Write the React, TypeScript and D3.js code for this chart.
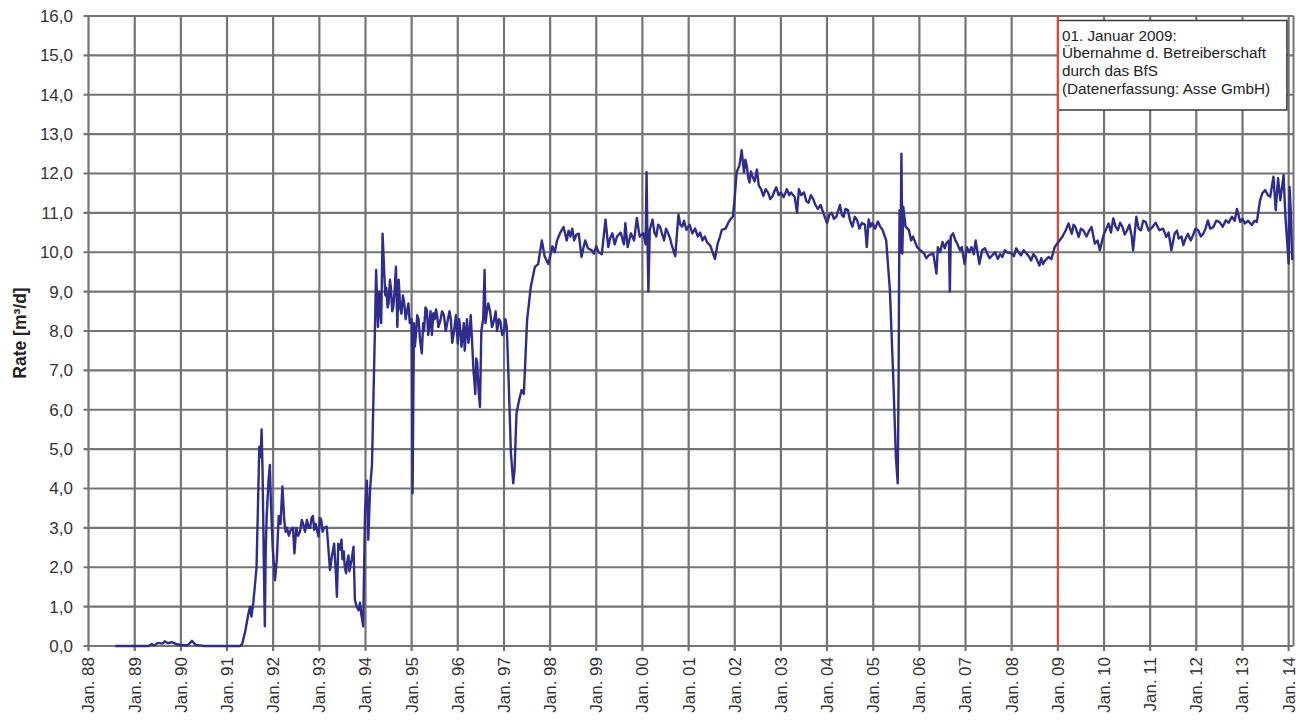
import { useEffect, useRef } from "react";
import * as d3 from "d3";

// brine inflow rate, [decimal year, m³/d]
const inflow1988to1993: [number, number][] = [
  [1988.58, 0], [1989.3, 0], [1989.37, 0.05], [1989.42, 0.01], [1989.5, 0.08], [1989.6, 0.06],
  [1989.65, 0.12], [1989.72, 0.07], [1989.8, 0.1], [1989.9, 0.05], [1990.0, 0.02], [1990.15, 0.02],
  [1990.24, 0.13], [1990.32, 0.03], [1990.5, 0], [1991.28, 0], [1991.33, 0.05], [1991.4, 0.4],
  [1991.46, 0.8], [1991.5, 1.0], [1991.53, 0.75], [1991.57, 1.1], [1991.61, 1.6], [1991.64, 2.0],
  [1991.67, 3.5], [1991.7, 5.06], [1991.73, 4.8], [1991.75, 5.5], [1991.77, 4.5], [1991.8, 2.0],
  [1991.82, 0.5], [1991.84, 2.5], [1991.86, 3.3], [1991.9, 4.2], [1991.93, 4.6], [1991.95, 3.7],
  [1991.99, 2.5], [1992.04, 1.67], [1992.08, 2.2], [1992.12, 3.3], [1992.16, 3.1], [1992.2, 4.05],
  [1992.24, 3.2], [1992.27, 2.9], [1992.3, 3.0], [1992.34, 2.8], [1992.38, 2.95], [1992.43, 3.0],
  [1992.46, 2.35], [1992.5, 3.0], [1992.54, 2.8], [1992.58, 2.9], [1992.62, 3.2], [1992.65, 3.1],
  [1992.69, 2.9], [1992.73, 3.2], [1992.77, 3.0], [1992.8, 3.0], [1992.83, 3.25], [1992.86, 3.3],
  [1992.89, 2.95], [1992.92, 3.1], [1992.98, 2.78], [1993.01, 3.25], [1993.04, 3.2], [1993.07, 2.9],
  [1993.1, 3.0], [1993.16, 3.03], [1993.2, 2.4], [1993.23, 1.93], [1993.27, 2.27], [1993.32, 2.6],
  [1993.36, 1.8], [1993.38, 1.25], [1993.41, 2.6], [1993.45, 2.45], [1993.48, 2.7], [1993.5, 2.2],
  [1993.53, 2.4], [1993.55, 2.0], [1993.58, 1.85], [1993.6, 2.1], [1993.63, 2.3], [1993.65, 1.9],
  [1993.7, 2.2], [1993.74, 2.52], [1993.77, 1.17], [1993.81, 1.0], [1993.85, 0.91], [1993.88, 1.1],
  [1993.91, 0.8], [1993.95, 0.5], [1993.99, 3.45],
];

const inflow1994to1997: [number, number][] = [
  [1994.03, 4.2], [1994.06, 2.7], [1994.1, 4.0], [1994.14, 4.6], [1994.17, 6.2], [1994.2, 7.8],
  [1994.23, 9.55], [1994.27, 8.1], [1994.3, 9.0], [1994.34, 8.2], [1994.37, 10.47], [1994.41, 9.37],
  [1994.43, 8.9], [1994.45, 9.1], [1994.48, 8.6], [1994.5, 8.7], [1994.53, 9.3], [1994.55, 9.1],
  [1994.58, 8.5], [1994.6, 8.6], [1994.63, 9.0], [1994.66, 9.63], [1994.69, 8.1], [1994.72, 9.3],
  [1994.75, 8.6], [1994.78, 8.44], [1994.81, 8.9], [1994.84, 8.7], [1994.87, 8.3], [1994.9, 8.5],
  [1994.93, 8.7], [1994.96, 8.2], [1995.0, 8.3], [1995.02, 3.88], [1995.05, 8.2], [1995.07, 7.6],
  [1995.1, 8.0], [1995.12, 8.4], [1995.15, 8.3], [1995.18, 7.8], [1995.22, 7.43], [1995.25, 8.2],
  [1995.27, 8.0], [1995.3, 8.6], [1995.33, 8.53], [1995.36, 7.9], [1995.38, 8.1], [1995.41, 8.5],
  [1995.44, 7.9], [1995.47, 8.45], [1995.5, 8.3], [1995.53, 8.55], [1995.55, 8.4], [1995.58, 8.1],
  [1995.62, 8.25], [1995.66, 8.5], [1995.7, 8.4], [1995.74, 8.0], [1995.78, 8.25], [1995.82, 8.5],
  [1995.85, 8.3], [1995.88, 7.7], [1995.92, 8.0], [1995.96, 8.4], [1996.0, 7.68], [1996.03, 8.3],
  [1996.05, 8.1], [1996.08, 7.6], [1996.1, 7.8], [1996.13, 8.2], [1996.15, 7.5], [1996.18, 8.0],
  [1996.2, 8.3], [1996.23, 7.7], [1996.26, 8.0], [1996.28, 8.4], [1996.3, 7.95], [1996.34, 7.0],
  [1996.38, 6.4], [1996.4, 7.3], [1996.42, 7.2], [1996.45, 6.5], [1996.48, 6.07], [1996.51, 8.0],
  [1996.55, 8.3], [1996.58, 9.55], [1996.6, 8.2], [1996.62, 8.4], [1996.66, 8.7], [1996.7, 8.5],
  [1996.74, 8.1], [1996.78, 8.25], [1996.82, 8.5], [1996.85, 8.0], [1996.89, 8.3], [1996.92, 8.25],
  [1996.96, 7.9], [1997.0, 8.0], [1997.03, 8.3], [1997.06, 8.1], [1997.1, 6.75], [1997.15, 4.9],
  [1997.2, 4.13], [1997.23, 4.5], [1997.27, 5.9], [1997.32, 6.2], [1997.38, 6.5], [1997.43, 6.4],
];

const inflow1997to2001: [number, number][] = [
  [1997.5, 8.27], [1997.58, 9.12], [1997.67, 9.63], [1997.74, 9.7], [1997.82, 10.3], [1997.88, 9.9],
  [1997.96, 9.7], [1998.05, 10.15], [1998.1, 10.0], [1998.15, 10.3], [1998.22, 10.5], [1998.29, 10.64],
  [1998.33, 10.45], [1998.36, 10.3], [1998.4, 10.55], [1998.44, 10.4], [1998.48, 10.6], [1998.52, 10.3],
  [1998.57, 10.45], [1998.62, 10.47], [1998.68, 9.88], [1998.72, 10.1], [1998.76, 10.3], [1998.82, 10.1],
  [1998.9, 10.05], [1998.95, 9.97], [1999.0, 10.15], [1999.05, 10.0], [1999.12, 9.95], [1999.2, 10.83],
  [1999.26, 10.13], [1999.3, 10.35], [1999.35, 10.48], [1999.4, 10.2], [1999.45, 10.4], [1999.53, 10.5],
  [1999.6, 10.2], [1999.63, 10.74], [1999.68, 10.13], [1999.75, 10.48], [1999.82, 10.3], [1999.88, 10.87],
  [1999.94, 10.4], [2000.02, 10.48], [2000.07, 10.2], [2000.09, 12.03], [2000.11, 10.3], [2000.13, 9.0],
  [2000.16, 10.57], [2000.22, 10.83], [2000.26, 10.5], [2000.3, 10.4], [2000.34, 10.7], [2000.38, 10.65],
  [2000.43, 10.45], [2000.47, 10.3], [2000.51, 10.6], [2000.55, 10.5], [2000.6, 10.35], [2000.63, 10.2],
  [2000.71, 9.9], [2000.78, 10.96], [2000.82, 10.7], [2000.86, 10.65], [2000.9, 10.8], [2000.95, 10.57],
  [2001.02, 10.7], [2001.08, 10.48], [2001.14, 10.6], [2001.2, 10.4], [2001.25, 10.5], [2001.3, 10.3],
  [2001.35, 10.4], [2001.4, 10.25], [2001.47, 10.17], [2001.52, 10.0], [2001.57, 9.83], [2001.63, 10.22],
  [2001.68, 10.4], [2001.72, 10.57], [2001.8, 10.6], [2001.86, 10.75], [2001.9, 10.83], [2001.96, 10.91],
];

const inflow2002to2005: [number, number][] = [
  [2002.0, 11.4], [2002.04, 12.03], [2002.1, 12.2], [2002.15, 12.59], [2002.2, 12.03], [2002.23, 12.35],
  [2002.26, 12.2], [2002.29, 11.9], [2002.32, 11.77], [2002.35, 12.05], [2002.38, 11.94], [2002.43, 11.8],
  [2002.48, 12.1], [2002.52, 11.7], [2002.57, 11.6], [2002.62, 11.43], [2002.67, 11.6], [2002.72, 11.52],
  [2002.77, 11.35], [2002.82, 11.43], [2002.86, 11.55], [2002.9, 11.65], [2002.95, 11.45], [2003.0, 11.52],
  [2003.06, 11.4], [2003.13, 11.6], [2003.18, 11.45], [2003.22, 11.52], [2003.3, 11.4], [2003.35, 11.0],
  [2003.39, 11.6], [2003.44, 11.45], [2003.5, 11.52], [2003.55, 11.3], [2003.6, 11.26], [2003.65, 11.45],
  [2003.7, 11.35], [2003.75, 11.2], [2003.8, 11.1], [2003.86, 11.2], [2003.92, 11.0], [2004.0, 10.74],
  [2004.05, 10.95], [2004.1, 11.0], [2004.15, 10.85], [2004.2, 10.9], [2004.28, 11.2], [2004.32, 10.95],
  [2004.36, 10.9], [2004.4, 11.1], [2004.45, 11.07], [2004.5, 10.8], [2004.55, 10.65], [2004.6, 10.9],
  [2004.65, 10.82], [2004.7, 10.6], [2004.75, 10.74], [2004.82, 10.7], [2004.86, 10.13], [2004.9, 10.83],
  [2004.94, 10.65], [2004.98, 10.74], [2005.04, 10.6], [2005.1, 10.78], [2005.15, 10.65], [2005.2, 10.57],
  [2005.28, 10.3],
];

const inflow2005to2008: [number, number][] = [
  [2005.36, 9.04], [2005.43, 6.92], [2005.49, 4.8], [2005.53, 4.13], [2005.55, 6.92], [2005.56, 9.46],
  [2005.57, 11.07], [2005.59, 10.0], [2005.61, 12.5], [2005.63, 9.97], [2005.65, 11.16], [2005.7, 10.65],
  [2005.77, 10.57], [2005.82, 10.3], [2005.86, 10.4], [2005.95, 10.13], [2006.02, 10.05], [2006.1, 9.97],
  [2006.15, 9.85], [2006.2, 9.92], [2006.3, 9.97], [2006.37, 9.46], [2006.4, 10.13], [2006.45, 10.0],
  [2006.5, 10.26], [2006.55, 10.1], [2006.58, 10.22], [2006.64, 10.3], [2006.66, 9.0], [2006.68, 10.4],
  [2006.73, 10.48], [2006.78, 10.3], [2006.82, 10.22], [2006.88, 10.05], [2006.92, 10.13], [2006.98, 9.7],
  [2007.03, 10.13], [2007.08, 10.0], [2007.13, 10.13], [2007.18, 9.95], [2007.22, 10.3], [2007.3, 9.7],
  [2007.36, 10.05], [2007.42, 10.1], [2007.47, 9.97], [2007.52, 9.85], [2007.58, 9.92], [2007.64, 10.0],
  [2007.7, 9.83], [2007.75, 9.95], [2007.8, 9.88], [2007.85, 10.05], [2007.9, 10.0], [2008.0, 9.97],
  [2008.05, 9.9], [2008.1, 10.1], [2008.15, 10.0], [2008.2, 9.92], [2008.26, 10.05], [2008.32, 9.97],
  [2008.37, 9.9], [2008.42, 9.79], [2008.47, 9.95], [2008.52, 9.88], [2008.6, 9.66], [2008.64, 9.85],
  [2008.68, 9.7], [2008.72, 9.79], [2008.8, 9.88], [2008.86, 9.83], [2008.93, 10.13],
];

const inflow2009to2014: [number, number][] = [
  [2009.01, 10.26], [2009.1, 10.4], [2009.17, 10.56], [2009.23, 10.73], [2009.3, 10.47], [2009.34, 10.7],
  [2009.38, 10.64], [2009.45, 10.39], [2009.5, 10.6], [2009.55, 10.56], [2009.62, 10.4], [2009.68, 10.55],
  [2009.73, 10.64], [2009.8, 10.22], [2009.86, 10.3], [2009.91, 10.05], [2009.96, 10.3], [2010.0, 10.47],
  [2010.05, 10.6], [2010.1, 10.73], [2010.15, 10.5], [2010.2, 10.86], [2010.25, 10.65], [2010.3, 10.56],
  [2010.35, 10.75], [2010.4, 10.64], [2010.45, 10.45], [2010.5, 10.56], [2010.55, 10.7], [2010.6, 10.4],
  [2010.63, 10.05], [2010.7, 10.9], [2010.75, 10.6], [2010.8, 10.56], [2010.85, 10.8], [2010.9, 10.77],
  [2010.97, 10.55], [2011.05, 10.64], [2011.12, 10.75], [2011.2, 10.56], [2011.28, 10.6], [2011.35, 10.39],
  [2011.4, 10.5], [2011.46, 10.05], [2011.53, 10.47], [2011.58, 10.55], [2011.62, 10.35], [2011.68, 10.4],
  [2011.72, 10.18], [2011.77, 10.35], [2011.82, 10.47], [2011.88, 10.3], [2011.93, 10.43], [2011.98, 10.6],
  [2012.04, 10.56], [2012.1, 10.4], [2012.15, 10.47], [2012.2, 10.6], [2012.25, 10.81], [2012.3, 10.6],
  [2012.37, 10.64], [2012.43, 10.8], [2012.5, 10.77], [2012.57, 10.65], [2012.64, 10.81], [2012.7, 10.75],
  [2012.77, 10.9], [2012.83, 10.8], [2012.88, 11.1], [2012.95, 10.77], [2013.0, 10.85], [2013.05, 10.73],
  [2013.12, 10.8], [2013.2, 10.69], [2013.26, 10.8], [2013.31, 10.77], [2013.38, 11.32], [2013.43, 11.5],
  [2013.49, 11.58], [2013.55, 11.45], [2013.6, 11.41], [2013.64, 11.7], [2013.67, 11.92], [2013.72, 11.07],
  [2013.77, 11.88], [2013.82, 11.32], [2013.89, 11.96], [2013.93, 10.9], [2013.96, 10.39], [2014.0, 9.71],
  [2014.02, 11.66], [2014.05, 10.9], [2014.07, 10.05], [2014.08, 9.8],
];

const yTicks = [0, 1, 2, 3, 4, 5, 6, 7, 8, 9, 10, 11, 12, 13, 14, 15, 16];
const tickYears = [
  1988, 1989, 1990, 1991, 1992, 1993, 1994, 1995, 1996, 1997, 1998, 1999, 2000,
  2001, 2002, 2003, 2004, 2005, 2006, 2007, 2008, 2009, 2010, 2011, 2012, 2013, 2014,
];
const handoverYear = 2009;
const noteLines = [
  "01. Januar 2009:",
  "Übernahme d. Betreiberschaft",
  "durch das BfS",
  "(Datenerfassung: Asse GmbH)",
];

// decimal year -> Date
const toDate = (y: number) => {
  const yr = Math.floor(y);
  const a = new Date(yr, 0, 1).getTime();
  const b = new Date(yr + 1, 0, 1).getTime();
  return new Date(a + (y - yr) * (b - a));
};

const App = () => {
  const svgRef = useRef<SVGSVGElement>(null);

  useEffect(() => {
    const svg = d3.select(svgRef.current);
    svg.selectAll("*").remove();

    const W = 1309;
    const H = 724;
    const left = 88.5;
    const right = 1293.5;
    const top = 16;
    const bottom = 646;
    const font = "'Liberation Sans', Arial, sans-serif";
    const gridColor = "#747474";

    const data = [
      ...inflow1988to1993,
      ...inflow1994to1997,
      ...inflow1997to2001,
      ...inflow2002to2005,
      ...inflow2005to2008,
      ...inflow2009to2014,
    ];

    const xScale = d3
      .scaleTime()
      .domain([new Date(1988, 0, 1), toDate(2014.105)])
      .range([left, right]);
    const yScale = d3.scaleLinear().domain([0, 16]).range([bottom, top]);

    svg.attr("width", W).attr("height", H);
    svg.append("rect").attr("width", W).attr("height", H).attr("fill", "#fff");

    // horizontal grid, with small outward ticks
    svg
      .append("g")
      .selectAll("line")
      .data(yTicks)
      .join("line")
      .attr("x1", left - 5)
      .attr("x2", right)
      .attr("y1", (d) => yScale(d))
      .attr("y2", (d) => yScale(d))
      .attr("stroke", gridColor)
      .attr("stroke-width", 2.2);

    // vertical grid at every January
    svg
      .append("g")
      .selectAll("line")
      .data(tickYears)
      .join("line")
      .attr("x1", (d) => xScale(new Date(d, 0, 1)))
      .attr("x2", (d) => xScale(new Date(d, 0, 1)))
      .attr("y1", top)
      .attr("y2", bottom + 5)
      .attr("stroke", gridColor)
      .attr("stroke-width", 2.2);

    // right frame edge
    svg
      .append("line")
      .attr("x1", right)
      .attr("x2", right)
      .attr("y1", top)
      .attr("y2", bottom)
      .attr("stroke", gridColor)
      .attr("stroke-width", 2);

    // y tick labels
    svg
      .append("g")
      .selectAll("text")
      .data(yTicks)
      .join("text")
      .attr("x", 73)
      .attr("y", (d) => yScale(d))
      .attr("dy", "0.35em")
      .attr("text-anchor", "end")
      .attr("font-family", font)
      .attr("font-size", 17)
      .attr("fill", "#333")
      .text((d) => d.toFixed(1).replace(".", ","));

    // x tick labels, rotated
    svg
      .append("g")
      .selectAll("text")
      .data(tickYears)
      .join("text")
      .attr(
        "transform",
        (d) => `translate(${xScale(new Date(d, 0, 1))},657) rotate(-90)`
      )
      .attr("dy", "0.35em")
      .attr("text-anchor", "end")
      .attr("font-family", font)
      .attr("font-size", 17)
      .attr("fill", "#333")
      .text((d) => "Jan. " + String(d % 100).padStart(2, "0"));

    // y axis title
    svg
      .append("text")
      .attr("transform", `translate(20,${(top + bottom) / 2 + 2}) rotate(-90)`)
      .attr("dy", "0.35em")
      .attr("text-anchor", "middle")
      .attr("font-family", font)
      .attr("font-size", 17.5)
      .attr("font-weight", "bold")
      .attr("fill", "#222")
      .text("Rate [m³/d]");

    // operator change marker
    const xh = xScale(new Date(handoverYear, 0, 1));
    svg
      .append("line")
      .attr("x1", xh)
      .attr("x2", xh)
      .attr("y1", top)
      .attr("y2", bottom)
      .attr("stroke", "#e4472e")
      .attr("stroke-width", 2);

    const line = d3
      .line<[number, number]>()
      .x((d) => xScale(toDate(d[0])))
      .y((d) => yScale(d[1]));

    svg
      .append("path")
      .datum(data)
      .attr("d", line)
      .attr("fill", "none")
      .attr("stroke", "#2e2c8c")
      .attr("stroke-width", 2.4)
      .attr("stroke-linejoin", "round");

    // annotation box
    const note = svg.append("g");
    note
      .append("rect")
      .attr("x", xh)
      .attr("y", 20.5)
      .attr("width", 229)
      .attr("height", 89.5)
      .attr("fill", "#fff")
      .attr("stroke", "#3a3a3a")
      .attr("stroke-width", 1.5);
    note
      .append("line")
      .attr("x1", xh)
      .attr("x2", xh)
      .attr("y1", 20)
      .attr("y2", 111)
      .attr("stroke", "#e4472e")
      .attr("stroke-width", 2);
    note
      .selectAll("text")
      .data(noteLines)
      .join("text")
      .attr("x", xh + 4)
      .attr("y", (d, i) => 40.5 + i * 17.8)
      .attr("font-family", font)
      .attr("font-size", 15.3)
      .attr("fill", "#222")
      .text((d) => d);
  }, []);

  return (
    <div style={{ position: "absolute", left: 0, top: 0 }}>
      <svg ref={svgRef} style={{ display: "block" }}></svg>
    </div>
  );
};

export default App;
